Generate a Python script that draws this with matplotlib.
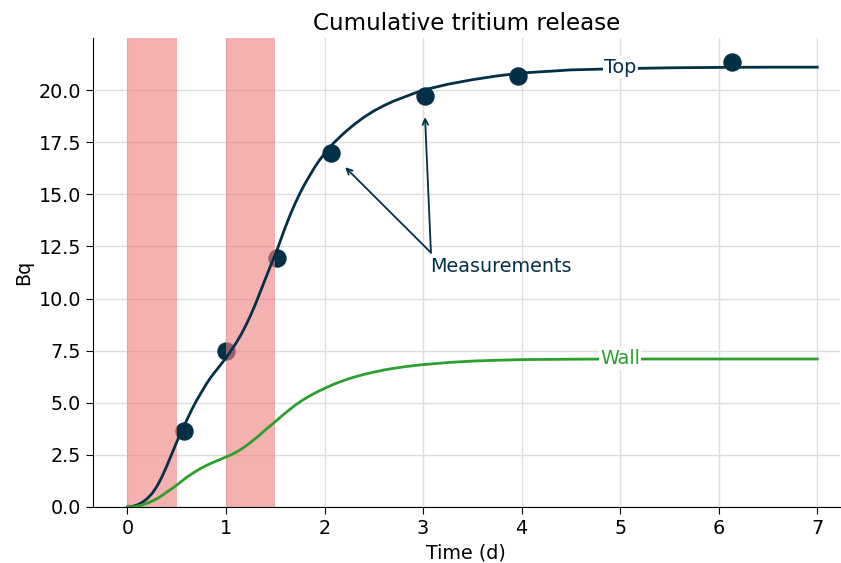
import matplotlib.pyplot as plt

# time grid used for the model curves (days)
t = [0, 0.05, 0.1, 0.15, 0.2, 0.25, 0.3, 0.35, 0.4, 0.45, 0.5, 0.55, 0.6, 0.65, 0.7, 0.75,
     0.8, 0.85, 0.9, 0.95, 1.0, 1.05, 1.1, 1.15, 1.2, 1.25, 1.3, 1.35, 1.4, 1.45, 1.5,
     1.55, 1.6, 1.65, 1.7, 1.75, 1.8, 1.85, 1.9, 1.95, 2.0, 2.1, 2.2, 2.3, 2.4, 2.5,
     2.6, 2.7, 2.8, 2.9, 3.0, 3.25, 3.5, 3.75, 4.0, 4.5, 5.0, 5.5, 6.0, 6.5, 7.0]
top = [0, 0.03, 0.1, 0.22, 0.4, 0.65, 1.0, 1.45, 1.98, 2.55, 3.12, 3.65, 4.15, 4.65, 5.1, 5.5,
       5.9, 6.25, 6.55, 6.85, 7.15, 7.5, 7.85, 8.25, 8.7, 9.2, 9.75, 10.35, 10.95, 11.55, 12.1,
       12.75, 13.4, 14.0, 14.55, 15.05, 15.5, 15.9, 16.3, 16.65, 16.95, 17.5, 17.95, 18.35, 18.7, 19.0,
       19.25, 19.47, 19.65, 19.83, 20.0, 20.28, 20.5, 20.68, 20.82, 20.97, 21.03, 21.07, 21.09, 21.1, 21.1]
wall = [0, 0.01, 0.04, 0.1, 0.18, 0.28, 0.4, 0.55, 0.72, 0.88, 1.05, 1.24, 1.42, 1.58, 1.73, 1.87,
        1.99, 2.1, 2.2, 2.3, 2.4, 2.5, 2.62, 2.76, 2.92, 3.1, 3.29, 3.49, 3.7, 3.9, 4.1,
        4.3, 4.5, 4.69, 4.87, 5.04, 5.19, 5.33, 5.46, 5.58, 5.69, 5.9, 6.08, 6.23, 6.36, 6.47,
        6.57, 6.65, 6.72, 6.78, 6.83, 6.93, 7.0, 7.04, 7.07, 7.09, 7.1, 7.1, 7.1, 7.1, 7.1]

# measurements
meas_t = [0.57, 1.0, 1.52, 2.07, 3.02, 3.96, 6.14]
meas_y = [3.65, 7.5, 11.95, 17.0, 19.7, 20.7, 21.35]

# exposure windows (start, end)
windows = [(0, 0.5), (1.0, 1.5)]

navy = '#023047'
green = '#2ca02c'
fs = 13.8

fig = plt.figure(figsize=(8.41, 5.63), dpi=100)
ax = fig.add_axes([0.1106, 0.0995, 0.888, 0.833])

ax.scatter(meas_t, meas_y, s=150, color=navy, zorder=1)
for a, b in windows:
    ax.axvspan(a, b, color='lightcoral', alpha=0.62, lw=0, zorder=2)
ax.plot(t, top, color=navy, lw=2, zorder=3)
ax.plot(t, wall, color=green, lw=2, zorder=3)

# inline labels
ax.text(5.0, 21.1, 'Top', color=navy, fontsize=fs, ha='center', va='center', zorder=4,
        bbox=dict(facecolor='white', edgecolor='none', pad=1))
ax.text(5.0, 7.1, 'Wall', color=green, fontsize=fs, ha='center', va='center', zorder=4,
        bbox=dict(facecolor='white', edgecolor='none', pad=1))

# measurement annotation
arrow = dict(arrowstyle='->', color=navy, lw=1.3, shrinkA=0, shrinkB=0)
ax.text(3.07, 11.55, 'Measurements', color=navy, fontsize=fs, ha='left', va='center')
ax.annotate('', xy=(2.21, 16.3), xytext=(3.08, 12.2), arrowprops=arrow, zorder=4)
ax.annotate('', xy=(3.02, 18.7), xytext=(3.08, 12.2), arrowprops=arrow, zorder=4)

ax.set_xlim(-0.35, 7.23)
ax.set_ylim(0, 22.5)
ax.set_xticks(range(0, 8))
ax.set_yticks([0, 2.5, 5, 7.5, 10, 12.5, 15, 17.5, 20])
ax.tick_params(labelsize=fs, length=5)
ax.grid(True, color='#dddddd', lw=1)
ax.set_axisbelow(True)
for s in ['top', 'right']:
    ax.spines[s].set_visible(False)

ax.set_title('Cumulative tritium release', fontsize=16.6)
ax.set_xlabel('Time (d)', fontsize=fs)
ax.set_ylabel('Bq', fontsize=fs)

fig.savefig('out.png', dpi=100)
